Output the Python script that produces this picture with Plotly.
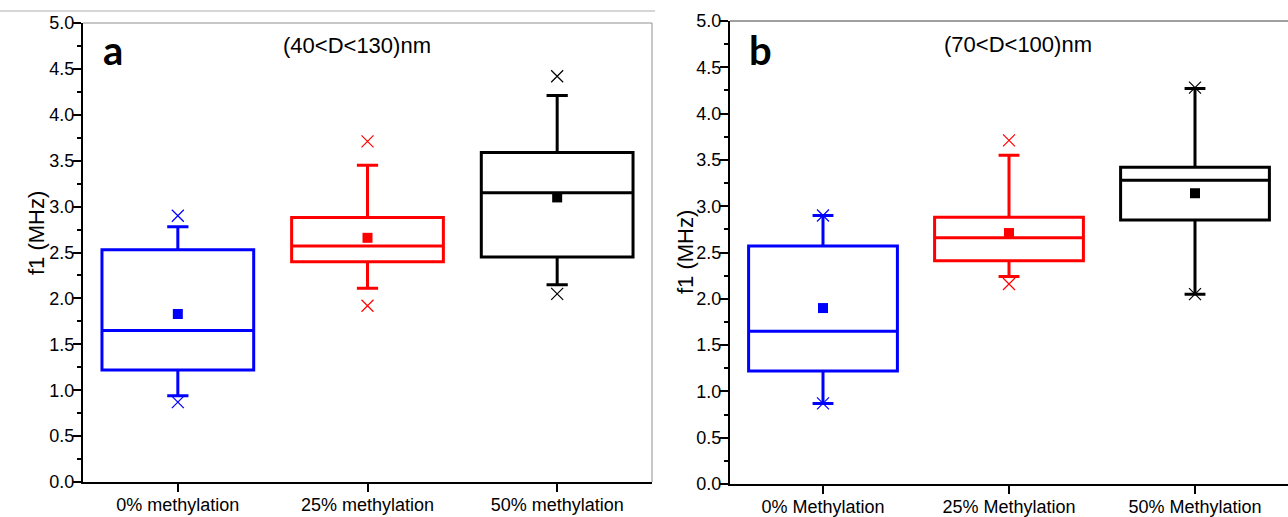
import plotly.graph_objects as go

W, H = 1288, 517

# ---- data ----
cats_a = ["0% methylation", "25% methylation", "50% methylation"]
cats_b = ["0% Methylation", "25% Methylation", "50% Methylation"]
colors = ["#0000FF", "#FF0000", "#000000"]

# panel a  (40<D<130)nm
q1_a = [1.22, 2.40, 2.45]
med_a = [1.65, 2.57, 3.15]
q3_a = [2.53, 2.88, 3.59]
lo_a = [0.94, 2.11, 2.15]
hi_a = [2.78, 3.45, 4.21]
mean_a = [1.83, 2.66, 3.10]
xmax_a = [2.90, 3.71, 4.42]
xmin_a = [0.87, 1.92, 2.05]

# panel b  (70<D<100)nm
q1_b = [1.22, 2.41, 2.85]
med_b = [1.65, 2.66, 3.28]
q3_b = [2.57, 2.88, 3.42]
lo_b = [0.87, 2.24, 2.05]
hi_b = [2.90, 3.55, 4.27]
mean_b = [1.90, 2.71, 3.14]
xmax_b = [2.90, 3.71, 4.28]
xmin_b = [0.87, 2.16, 2.05]

y_ticks = [0.0, 0.5, 1.0, 1.5, 2.0, 2.5, 3.0, 3.5, 4.0, 4.5, 5.0]
y_title = "f1 (MHz)"

fig = go.Figure()

def add_panel(cats, q1, med, q3, lo, hi, mean, xmx, xmn, xa, ya):
    for i, c in enumerate(cats):
        fig.add_trace(go.Box(
            x=[c], q1=[q1[i]], median=[med[i]], q3=[q3[i]],
            lowerfence=[lo[i]], upperfence=[hi[i]],
            boxpoints=False, width=0.8, whiskerwidth=0.14,
            line=dict(color=colors[i], width=3),
            fillcolor="rgba(0,0,0,0)", xaxis=xa, yaxis=ya,
            showlegend=False, hoverinfo="skip"))
        fig.add_trace(go.Scatter(
            x=[c], y=[mean[i]], mode="markers",
            marker=dict(symbol="square", size=10, color=colors[i]),
            xaxis=xa, yaxis=ya, showlegend=False, hoverinfo="skip"))
        fig.add_trace(go.Scatter(
            x=[c, c], y=[xmx[i], xmn[i]], mode="markers",
            marker=dict(symbol="x-thin", size=12,
                        line=dict(color=colors[i], width=1.2)),
            xaxis=xa, yaxis=ya, showlegend=False, hoverinfo="skip"))

add_panel(cats_a, q1_a, med_a, q3_a, lo_a, hi_a, mean_a, xmax_a, xmin_a, "x", "y")
add_panel(cats_b, q1_b, med_b, q3_b, lo_b, hi_b, mean_b, xmax_b, xmin_b, "x2", "y2")

FONT = "Liberation Sans, Arial, sans-serif"

def xax(domain, anchor, cats):
    return dict(domain=domain, anchor=anchor, type="category",
                categoryorder="array", categoryarray=cats,
                range=[-0.5, 2.5], showline=True, linecolor="black",
                linewidth=2, ticks="outside", ticklen=8, tickwidth=2,
                tickcolor="black", showgrid=False, zeroline=False,
                automargin=False, ticklabelstandoff=-3,
                tickfont=dict(family=FONT, size=18, color="black"))

def yax(domain, anchor):
    return dict(domain=domain, anchor=anchor, range=[0, 5],
                tickvals=y_ticks, ticktext=[f"{v:.1f}" for v in y_ticks],
                showline=True, linecolor="black", linewidth=2,
                ticks="outside", ticklen=8, tickwidth=2, tickcolor="black",
                minor=dict(tickvals=[v + 0.25 for v in y_ticks[:-1]],
                           ticks="outside", ticklen=4, tickwidth=1.5,
                           tickcolor="black"),
                showgrid=False, zeroline=False, automargin=False,
                ticklabelstandoff=-5,
                tickfont=dict(family=FONT, size=18, color="black"))

ax_l, ax_r = 83 / W, 652 / W
ay_b, ay_t = (H - 482) / H, (H - 23) / H
bx_l, bx_r = 730 / W, 1.0
by_b, by_t = (H - 484) / H, (H - 21) / H

fig.update_layout(
    width=W, height=H,
    margin=dict(l=0, r=0, t=0, b=0, autoexpand=False),
    paper_bgcolor="white", plot_bgcolor="white",
    xaxis=xax([ax_l, ax_r], "y", cats_a),
    yaxis=yax([ay_b, ay_t], "x"),
    xaxis2=xax([bx_l, bx_r], "y2", cats_b),
    yaxis2=yax([by_b, by_t], "x2"),
    shapes=[
        # separator line at top of panel a
        dict(type="line", xref="paper", yref="paper", x0=0, x1=655 / W,
             y0=(H - 11) / H, y1=(H - 11) / H,
             line=dict(color="#C8C8C8", width=1.5)),
        # panel a frame (top, right)
        dict(type="line", xref="x domain", yref="y domain", x0=0, x1=1,
             y0=1, y1=1, line=dict(color="#909090", width=1)),
        dict(type="line", xref="x domain", yref="y domain", x0=1, x1=1,
             y0=0, y1=1, line=dict(color="#909090", width=1)),
        # panel b frame (top)
        dict(type="line", xref="x2 domain", yref="y2 domain", x0=0, x1=1,
             y0=1, y1=1, line=dict(color="#404040", width=1)),
    ],
    annotations=[
        dict(text=y_title, xref="paper", yref="paper", x=37 / W,
             y=(H - 233) / H, textangle=-90, xanchor="center",
             yanchor="middle", showarrow=False,
             font=dict(family=FONT, size=22, color="black")),
        dict(text=y_title, xref="paper", yref="paper", x=685 / W,
             y=(H - 252) / H, textangle=-90, xanchor="center",
             yanchor="middle", showarrow=False,
             font=dict(family=FONT, size=22, color="black")),
        dict(text="<b>a</b>", xref="paper", yref="paper", x=101 / W,
             y=(H - 50) / H, xanchor="left", yanchor="middle",
             showarrow=False, font=dict(family="Lato, sans-serif", size=40,
                                        color="black")),
        dict(text="(40<D<130)nm", xref="paper", yref="paper", x=357 / W,
             y=(H - 46) / H, xanchor="center", yanchor="middle",
             showarrow=False, font=dict(family=FONT, size=22, color="black")),
        dict(text="<b>b</b>", xref="paper", yref="paper", x=747 / W,
             y=(H - 50) / H, xanchor="left", yanchor="middle",
             showarrow=False, font=dict(family="Lato, sans-serif", size=40,
                                        color="black")),
        dict(text="(70<D<100)nm", xref="paper", yref="paper", x=1018 / W,
             y=(H - 44) / H, xanchor="center", yanchor="middle",
             showarrow=False, font=dict(family=FONT, size=22, color="black")),
    ],
)

fig.write_html("out.html", config={"displayModeBar": False},
               post_script="document.body.style.margin='0';"
                           "document.body.style.padding='0';")
